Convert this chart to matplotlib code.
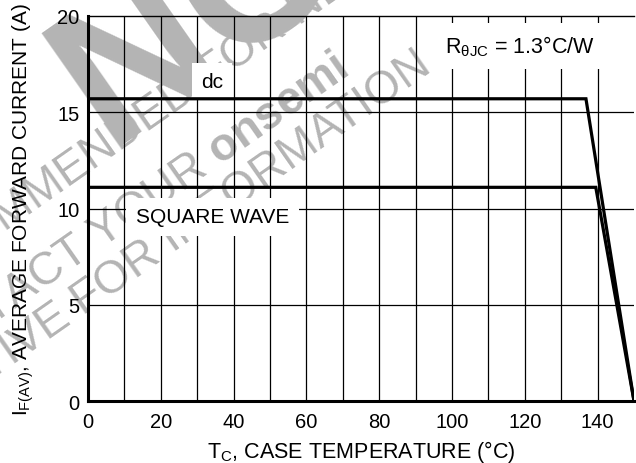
import numpy as np
import matplotlib
matplotlib.use('Agg')
import matplotlib.pyplot as plt
import matplotlib as mpl

mpl.rcParams.update({'font.family': ['Liberation Sans', 'DejaVu Sans']})
mpl.rcParams.update({'mathtext.fontset': 'custom'})
mpl.rcParams.update({'mathtext.rm': 'Liberation Sans'})
mpl.rcParams.update({'mathtext.it': 'Liberation Sans:italic'})
mpl.rcParams.update({'mathtext.bf': 'Liberation Sans:bold'})
mpl.rcParams.update({'font.size': 15.5})

# case temperature (C) vs. average forward current (A)
tc_dc = [0, 136.8, 150]
if_dc = [15.7, 15.7, 0]
tc_sq = [0, 139.5, 150]
if_sq = [11.1, 11.1, 0]

xticks = [0, 20, 40, 60, 80, 100, 120, 140]
yticks = [0, 5, 10, 15, 20]

W, H = 636, 464
fig = plt.figure(figsize=(W/100, H/100), dpi=100)
ax = fig.add_axes([88/W, 1-402/H, 546/W, 385/H])
ax.patch.set_alpha(0)

# grid
for x in range(10, 150, 10):
    ax.axvline(x, color='k', lw=0.9, zorder=1)
for y in [5, 10, 15]:
    ax.axhline(y, color='k', lw=0.9, zorder=1)

# curves sit above the label boxes
ax.plot(tc_dc, if_dc, 'k-', lw=2.3, zorder=5, solid_joinstyle='miter')
ax.plot(tc_sq, if_sq, 'k-', lw=2.3, zorder=5, solid_joinstyle='miter')

box = dict(boxstyle='square,pad=0.45', fc='white', ec='none')
ax.text(34.1, 16.6, 'dc', fontsize=15, ha='center', va='center', zorder=4, bbox=box)
ax.text(34.2, 9.56, 'SQUARE WAVE', fontsize=15, ha='center', va='center', zorder=4, bbox=box)
ax.text(118.6, 18.44, r'$\mathregular{R_{\theta JC}}$ = 1.3°C/W', fontsize=15.5,
        ha='center', va='center', zorder=4,
        bbox=dict(boxstyle='square,pad=0.5', fc='white', ec='none'))

ax.set_xlim(0, 150)
ax.set_ylim(0, 20)
ax.set_xticks(xticks)
ax.set_yticks(yticks)
ax.tick_params(length=0, labelsize=14.5)
ax.tick_params(axis='x', pad=8)
ax.tick_params(axis='y', pad=6)
ax.spines['left'].set_linewidth(2.2)
ax.spines['bottom'].set_linewidth(2.2)
ax.spines['top'].set_linewidth(1.0)
ax.spines['right'].set_visible(False)

ax.set_xlabel(r'$\mathregular{T_C}$, CASE TEMPERATURE (°C)')
ax.set_ylabel(r'$\mathregular{I_{F(AV)}}$, AVERAGE FORWARD CURRENT (A)', fontsize=15)
ax.xaxis.set_label_coords(0.5, -0.095)
ax.yaxis.set_label_coords(-0.096, 0.5)

# status stamp behind the grid
gray = '#b4b4b4'
stamp = [
    ('NOT', 145, 'bold', 252, -18),
    ('RECOMMENDED FOR NEW DESIGN', 33, 'normal', 212, 72),
    (r'CONTACT YOUR $\mathbf{onsemi}$', 33, 'normal', 123, 219),
    ('REPRESENTATIVE FOR INFORMATION', 33, 'normal', 80, 303),
]
for s, fs, fw, px, py in stamp:
    fig.text(px/W, 1-py/H, s, fontsize=fs, fontweight=fw, color=gray,
             rotation=35, ha='center', va='center', rotation_mode='anchor',
             zorder=-1)

plt.savefig('out.png', dpi=100)
